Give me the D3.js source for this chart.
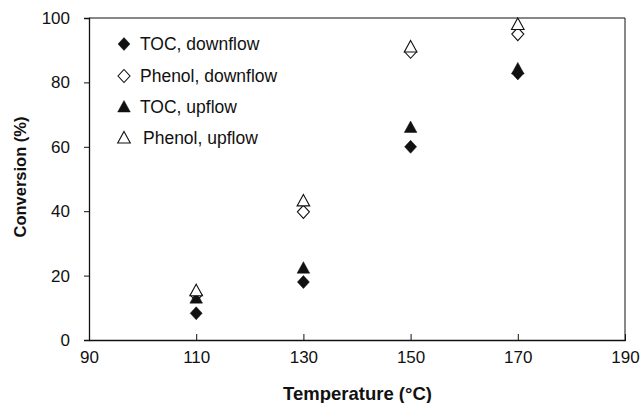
<!DOCTYPE html>
<html>
<head>
<meta charset="utf-8">
<script src="https://cdn.jsdelivr.net/npm/d3@7"></script>
<style>
  html, body { margin: 0; padding: 0; background: #fff; }
  svg { display: block; }
  text { font-family: "Liberation Sans", Arial, sans-serif; fill: #111; }
</style>
</head>
<body>
<svg id="chart" width="640" height="403"></svg>
<script>
// Temperatures (°C) at which conversion was measured
const temperatures = [110, 130, 150, 170];

// Conversion (%) for each series
const tocDownflow    = [8.3, 18, 60, 82.8];
const phenolDownflow = [14, 39.8, 89.5, 95];
const tocUpflow      = [13, 22.3, 66, 84.2];
const phenolUpflow   = [15.3, 43.2, 91, 98];

// Axis ticks
const xTicks = [90, 110, 130, 150, 170, 190];
const yTicks = [0, 20, 40, 60, 80, 100];

const seriesNames = ["TOC, downflow", "Phenol, downflow", "TOC, upflow", "Phenol, upflow"];
const seriesValues = [tocDownflow, phenolDownflow, tocUpflow, phenolUpflow];

const symbolFor = { "TOC, downflow": "diamond", "Phenol, downflow": "diamond",
                    "TOC, upflow": "triangle", "Phenol, upflow": "triangle" };
const filledFor = { "TOC, downflow": true, "Phenol, downflow": false,
                    "TOC, upflow": true, "Phenol, upflow": false };

const svg = d3.select("#chart");
const m = { left: 89, right: 15, top: 18, bottom: 63 };
const W = 640, H = 403;

const x = d3.scaleLinear().domain([90, 190]).range([m.left, W - m.right]);
const y = d3.scaleLinear().domain([0, 100]).range([H - m.bottom, m.top]);

// Marker paths centred at the origin
function markerPath(kind) {
  if (kind === "diamond") {
    return "M0,-6.5L6,0L0,6.5L-6,0Z";
  }
  return "M0,-6.5L6.3,5L-6.3,5Z";
}

// Plot frame (top and right edges)
svg.append("path")
  .attr("d", `M${x(90)},${y(100)}H${x(190)}V${y(0)}`)
  .attr("fill", "none").attr("stroke", "#111").attr("stroke-width", 1);

// X axis: ticks point into the plot area
const xAxis = svg.append("g")
  .attr("transform", `translate(0,${y(0)})`)
  .call(d3.axisBottom(x).tickValues(xTicks).tickSize(0).tickPadding(11).tickFormat(d3.format("d")));
xAxis.select(".domain").attr("stroke", "#111").attr("stroke-width", 1.3);
xAxis.selectAll(".tick line").remove();
xAxis.selectAll(".tick").append("line")
  .attr("y1", -6).attr("y2", 1).attr("stroke", "#111").attr("stroke-width", 1);
xAxis.selectAll("text").style("font-size", "17px").attr("fill", "#111").attr("dy", "0.71em");

// Y axis: ticks point outward
const yAxis = svg.append("g")
  .attr("transform", `translate(${x(90)},0)`)
  .call(d3.axisLeft(y).tickValues(yTicks).tickSize(5).tickPadding(14).tickFormat(d3.format("d")));
yAxis.select(".domain").attr("stroke", "#111").attr("stroke-width", 1.3);
yAxis.selectAll(".tick line").attr("stroke", "#111");
yAxis.selectAll("text").style("font-size", "17px").attr("fill", "#111");

// Axis titles
svg.append("text")
  .attr("x", (x(90) + x(190)) / 2 + 0.5).attr("y", 399.5)
  .attr("text-anchor", "middle")
  .style("font-size", "18.5px").style("font-weight", "bold")
  .text("Temperature (°C)");

svg.append("text")
  .attr("transform", `translate(26,177) rotate(-90)`)
  .attr("text-anchor", "middle")
  .style("font-size", "16.5px").style("font-weight", "bold")
  .text("Conversion (%)");

// Data points
seriesNames.forEach((name, si) => {
  svg.append("g").selectAll("path")
    .data(temperatures.map((t, i) => ({ t, v: seriesValues[si][i] })))
    .join("path")
    .attr("d", markerPath(symbolFor[name]))
    .attr("transform", d => `translate(${x(d.t)},${y(d.v)})`)
    .attr("fill", filledFor[name] ? "#111" : "#fff")
    .attr("stroke", "#111")
    .attr("stroke-width", filledFor[name] ? 0.5 : 1.1);
});

// Legend
const legendRows = [44, 76, 107, 138];
const legendTextX = [140, 140, 140, 143];
seriesNames.forEach((name, i) => {
  svg.append("path")
    .attr("d", markerPath(symbolFor[name]))
    .attr("transform", `translate(124,${legendRows[i]})`)
    .attr("fill", filledFor[name] ? "#111" : "#fff")
    .attr("stroke", "#111")
    .attr("stroke-width", filledFor[name] ? 0.5 : 1.1);
  svg.append("text")
    .attr("x", legendTextX[i]).attr("y", legendRows[i])
    .attr("dy", "0.36em")
    .style("font-size", "17.5px")
    .text(name);
});
</script>
</body>
</html>
